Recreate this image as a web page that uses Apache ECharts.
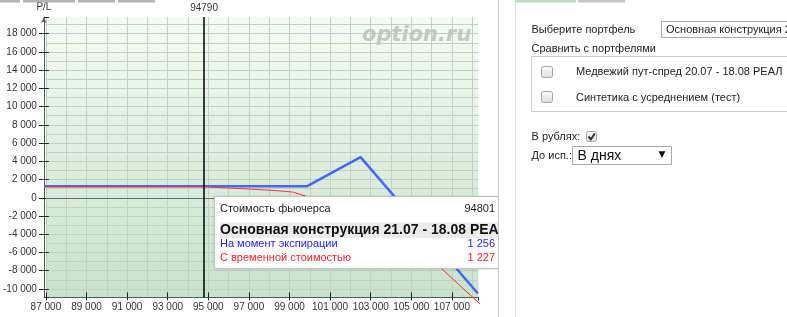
<!DOCTYPE html>
<html><head><meta charset="utf-8">
<script src="https://cdn.jsdelivr.net/npm/echarts@6/dist/echarts.min.js"></script>
<style>html,body{margin:0;padding:0;background:#fff;}#c{width:787px;height:317px;}</style>
</head><body><div id="c"></div>
<script>
// ---- data ----
const expiryX = [86900, 99850, 102500, 108280];
const expiryY = [1256, 1256, 4460, -10500];
const timeX = [86900, 93000, 94800, 95600, 97000, 98500, 99200, 99850, 101000, 102000, 103000, 104000, 105000, 106000, 106600, 107500, 108570];
const timeY = [1227, 1227, 1227, 1110, 960, 760, 610, 140, -700, -1550, -2600, -3800, -5200, -6800, -7990, -9850, -12020];
const futuresLine = 94790;
const tipPrice = '94801';
const tipExpiry = '1 256';
const tipTime = '1 227';
const portfolioName = 'Основная конструкция 21.07 - 18.08 РЕАЛ';
const comparePortfolios = ['Медвежий пут-спред 20.07 - 18.08 РЕАЛ', 'Синтетика с усреднением (тест)'];

const FONT = 'Liberation Sans, Arial, sans-serif';
function fmt(v){ const s = String(Math.abs(Math.round(v))).replace(/\B(?=(\d{3})+(?!\d))/g,' '); return (v<0?'-':'')+s; }
const grid = '#c0d1c2';

const chart = echarts.init(document.getElementById('c'), null, {renderer:'canvas'});
const T = (text, x, y, o, z) => ({type:'text', x, y, z:z||210, style:Object.assign({text, font:'11px '+FONT, fill:'#222', verticalAlign:'middle', align:'left'}, o||{})});
const R = (x, y, w, h, st, r, z) => ({type:'rect', z:z||205, shape:{x, y, width:w, height:h, r:r||0}, style:st});
const cbFill = () => new echarts.graphic.LinearGradient(0,0,0,1,[{offset:0,color:'#fbfbfb'},{offset:1,color:'#dedede'}]);

const graphics = [
  // watermark
  {type:'text', x:362, y:36, z:5, silent:true, style:{text:'option.ru', font:'italic bold 21px DejaVu Sans, sans-serif', fill:'#c2c9c2', verticalAlign:'middle'}},
  // tooltip (below the right-panel cover so it is clipped at the container edge)
  R(214.5, 196.5, 300, 72, {fill:'#fff', stroke:'#c4c4c4', lineWidth:1, shadowBlur:3, shadowColor:'rgba(0,0,0,0.15)'}, 0, 200),
  T('Стоимость фьючерса', 220, 209, null, 202),
  T(tipPrice, 495, 209, {align:'right'}, 202),
  R(220, 222.5, 290, 15.5, {fill:'#ebebeb'}, 0, 201),
  T(portfolioName, 220, 230, {font:'bold 14px '+FONT, fill:'#111'}, 202),
  T('На момент экспирации', 220, 244, {fill:'#2323ff'}, 202),
  T(tipExpiry, 495, 244, {align:'right', fill:'#2323ff'}, 202),
  T('С временной стоимостью', 220, 258, {fill:'#ff2222'}, 202),
  T(tipTime, 495, 258, {align:'right', fill:'#ff2222'}, 202),
  // right panel cover
  R(499, 0, 288, 317, {fill:'#fff'}, 0, 206),
  {type:'line', z:207, shape:{x1:498.5, y1:0, x2:498.5, y2:317}, style:{stroke:'#c8c8c8', lineWidth:1}},
  {type:'line', z:207, shape:{x1:515.5, y1:3, x2:515.5, y2:317}, style:{stroke:'#dcdcdc', lineWidth:1}},
  // top tab strips
  R(0, 0, 20, 2.5, {fill:'#b4b4b4'}, 0, 207),
  R(23, 0, 52, 2.5, {fill:'#b4b4b4'}, 0, 207),
  R(78, 0, 37, 2.5, {fill:'#b4b4b4'}, 0, 207),
  R(118, 0, 37, 2.5, {fill:'#b4b4b4'}, 0, 207),
  R(515, 0, 61, 2.5, {fill:'#b9dcb9'}, 0, 207),
  R(578, 0, 47, 2.5, {fill:'#c4c4c4'}, 0, 207),
  // panel
  T('Выберите портфель', 531.5, 29.5),
  R(661.5, 21.5, 140, 16, {fill:'#fff', stroke:'#a9a9a9', lineWidth:1}, 0, 208),
  T(portfolioName, 666, 29.5),
  T('Сравнить с портфелями', 531.5, 48.5),
  R(531.5, 56.5, 270, 55, {fill:'#fff', stroke:'#cccccc', lineWidth:1}, 0, 208),
  R(541.5, 66.5, 11, 11, {fill:cbFill(), stroke:'#a5a5a5', lineWidth:1}, 2, 209),
  T(comparePortfolios[0], 576, 72),
  R(541.5, 91.5, 11, 11, {fill:cbFill(), stroke:'#a5a5a5', lineWidth:1}, 2, 209),
  T(comparePortfolios[1], 576, 97.5),
  T('В рублях:', 531.5, 136.5),
  R(586.5, 131.5, 10, 10, {fill:cbFill(), stroke:'#a5a5a5', lineWidth:1}, 2, 209),
  {type:'polyline', z:211, shape:{points:[[588.5,136.5],[590.8,139.3],[594.8,133.5]]}, style:{stroke:'#333', lineWidth:2, fill:null}},
  T('До исп.:', 531.5, 156),
  R(572.5, 146.5, 99, 18, {fill:'#fff', stroke:'#a9a9a9', lineWidth:1}, 0, 208),
  T('В днях', 577.5, 156, {font:'14px '+FONT, fill:'#111'}),
  T('▼', 662, 155, {font:'9px DejaVu Sans, sans-serif', fill:'#111', align:'center'})
];

const axisTxt = {fontSize:10, color:'#333', fontFamily:FONT};
const option = {
  animation:false,
  grid:{left:45.3, right:308.7, top:17.1, bottom:19.6, show:true, borderWidth:0,
    backgroundColor:new echarts.graphic.LinearGradient(0,0,0,1,[{offset:0,color:'#f4faf4'},{offset:1,color:'#c8e3cc'}])},
  xAxis:[{
    type:'value', min:87000, max:108300, interval:2000, position:'bottom',
    axisLine:{onZero:false, lineStyle:{color:'#555', width:1}},
    axisTick:{inside:true, length:5, lineStyle:{color:'#222'}},
    axisLabel:Object.assign({margin:5, showMaxLabel:false, formatter:fmt}, axisTxt),
    splitLine:{show:true, showMaxLine:false, lineStyle:{color:grid, width:1}},
    minorTick:{show:false, splitNumber:2},
    minorSplitLine:{show:true, lineStyle:{color:grid, width:1}}
  },{
    type:'value', min:87000, max:108300, interval:2000, position:'bottom',
    axisLine:{show:false, onZero:false}, axisTick:{show:true, length:3, lineStyle:{color:'#222'}},
    axisLabel:{show:false}, splitLine:{show:false}
  }],
  yAxis:[{
    type:'value', min:-10923, max:19813, splitNumber:15, minInterval:2000, maxInterval:2000, position:'left', offset:2,
    name:'P/L', nameLocation:'end', nameGap:5, nameTextStyle:{fontSize:10, color:'#333', fontFamily:FONT},
    axisLine:{show:true, onZero:false, symbol:['none','arrow'], symbolSize:[4,6], lineStyle:{color:'#555', width:1}},
    axisTick:{show:true, length:5, lineStyle:{color:'#222'}},
    axisLabel:Object.assign({margin:7, showMinLabel:false, showMaxLabel:false, formatter:fmt}, axisTxt),
    splitLine:{show:true, showMinLine:false, showMaxLine:false, lineStyle:{color:grid, width:1}},
    minorTick:{show:false, splitNumber:2},
    minorSplitLine:{show:true, lineStyle:{color:grid, width:1}}
  },{
    type:'value', min:-10923, max:19813, splitNumber:15, minInterval:2000, maxInterval:2000, position:'left', offset:2,
    axisLine:{show:false, onZero:false}, axisTick:{show:true, inside:true, length:5, lineStyle:{color:'#222'}},
    axisLabel:{show:false}, splitLine:{show:false}
  }],
  series:[{
    type:'line', name:'На момент экспирации', clip:false, showSymbol:false, symbol:'none',
    data:expiryX.map((x,i)=>[x,expiryY[i]]),
    lineStyle:{color:'#4466ff', width:2.5}, z:3,
    markLine:{silent:true, symbol:'none', animation:false, data:[
      {yAxis:0, lineStyle:{color:'#6e6e6e', width:1, type:'solid'}, label:{show:false}},
      {xAxis:futuresLine, lineStyle:{color:'#000', width:1.5, type:'solid'},
        label:{show:true, position:'end', distance:4, formatter:String(futuresLine), fontSize:10, color:'#333', fontFamily:FONT}}
    ]}
  },{
    type:'line', name:'С временной стоимостью', clip:false, showSymbol:false, symbol:'none',
    data:timeX.map((x,i)=>[x,timeY[i]]),
    lineStyle:{color:'#ff3030', width:1}, z:4
  }],
  graphic:graphics
};
chart.setOption(option);
</script></body></html>
